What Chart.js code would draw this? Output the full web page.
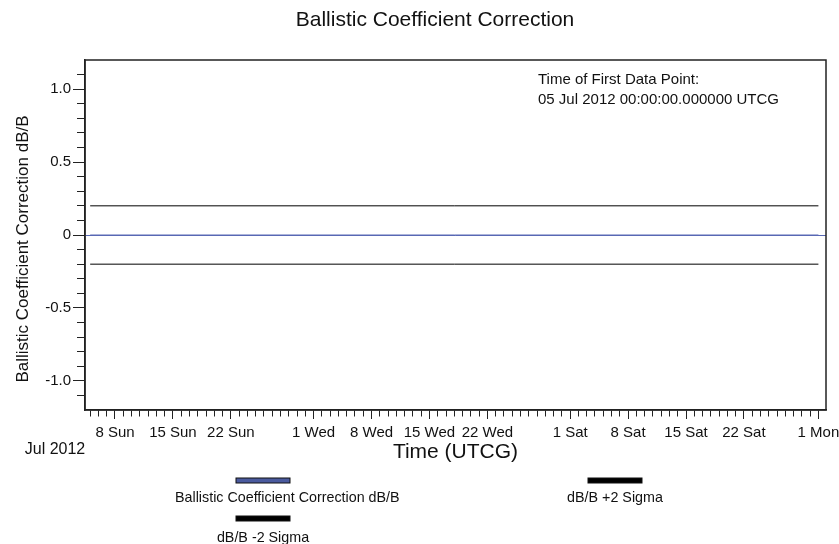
<!DOCTYPE html>
<html>
<head>
<meta charset="utf-8">
<script src="https://cdn.jsdelivr.net/npm/chart.js@4.4.1/dist/chart.umd.min.js"></script>
<style>
  html, body { margin: 0; padding: 0; background: #fff; }
</style>
</head>
<body>
<canvas id="bc-chart" width="839" height="544"></canvas>
<script>
// data: first and last sample time (UTC) of each series
const times = [Date.UTC(2012, 6, 5), Date.UTC(2012, 9, 1)];
const correction = [0, 0];
const plusSigma = [0.2, 0.2];
const minusSigma = [-0.2, -0.2];

// axis ticks
const yTicks = [-1.1, -1.0, -0.9, -0.8, -0.7, -0.6, -0.5, -0.4, -0.3, -0.2, -0.1, 0,
  0.1, 0.2, 0.3, 0.4, 0.5, 0.6, 0.7, 0.8, 0.9, 1.0, 1.1];
const yMajor = [-1.0, -0.5, 0, 0.5, 1.0];
const yLabels = ["-1.0", "-0.5", "0", "0.5", "1.0"];
const majorDays = [1, 8, 15, 22];
const weekdays = ["Sun", "Mon", "Tue", "Wed", "Thu", "Fri", "Sat"];
const xMin = Date.UTC(2012, 6, 4, 9);
const xMax = Date.UTC(2012, 9, 1, 22);

const titleText = "Ballistic Coefficient Correction";
const yTitleText = "Ballistic Coefficient Correction dB/B";
const noteLines = ["Time of First Data Point:", "05 Jul 2012 00:00:00.000000 UTCG"];
const epochLabel = "Jul 2012";

const DAY = 86400000;
const dayTicks = [];
for (let t = times[0]; t <= times[1]; t += DAY) dayTicks.push({ value: t });

const isMajorDay = (v) => majorDays.includes(new Date(v).getUTCDate());
const toPoints = (ys) => times.map((t, i) => ({ x: t, y: ys[i] }));

const FONT = "'Liberation Sans', Arial, sans-serif";
Chart.defaults.font.family = FONT;
Chart.defaults.color = "#111";

// title, y title, note, epoch label, frame and the two-column legend
const decor = {
  id: "decor",
  afterDraw(chart) {
    const { ctx, chartArea } = chart;
    ctx.save();
    ctx.strokeStyle = "#222";
    ctx.lineWidth = 1.5;
    ctx.strokeRect(chartArea.left, chartArea.top, chartArea.right - chartArea.left, chartArea.bottom - chartArea.top);

    ctx.fillStyle = "#111";
    ctx.textBaseline = "middle";
    ctx.textAlign = "center";
    ctx.font = "21px " + FONT;
    ctx.fillText(titleText, 435, 20);

    // y title sits a little below the middle of the axis, as in the source
    ctx.save();
    ctx.translate(23, 249);
    ctx.rotate(-Math.PI / 2);
    ctx.font = "17px " + FONT;
    ctx.fillText(yTitleText, 0, 0);
    ctx.restore();

    ctx.font = "16px " + FONT;
    ctx.fillText(epochLabel, 55, 450);

    ctx.font = "15px " + FONT;
    ctx.textAlign = "left";
    noteLines.forEach((line, i) => ctx.fillText(line, 538, 80 + i * 20));

    // legend
    const colCenter = [263, 615];
    const colLeft = [175, 470];
    const rowSwatch = [478, 516];
    const rowLabel = [498, 538];
    ctx.font = "14.3px " + FONT;
    chart.data.datasets.forEach((ds, i) => {
      const col = i % 2, row = Math.floor(i / 2);
      ctx.fillStyle = ds.backgroundColor;
      ctx.fillRect(colCenter[col] - 27, rowSwatch[row], 54, 5);
      ctx.strokeStyle = "#111";
      ctx.lineWidth = 1;
      ctx.strokeRect(colCenter[col] - 27, rowSwatch[row], 54, 5);
      const w = ctx.measureText(ds.label).width;
      const left = Math.max(colCenter[col] - w / 2, colLeft[col]);
      ctx.fillStyle = "#111";
      ctx.fillText(ds.label, left, rowLabel[row]);
    });
    ctx.restore();
  },
};

const bcChart = new Chart(document.getElementById("bc-chart"), {
  type: "line",
  data: {
    datasets: [
      {
        label: "Ballistic Coefficient Correction dB/B",
        data: toPoints(correction),
        borderColor: "#5868b4",
        backgroundColor: "#4a5a9e",
        borderWidth: 1,
        pointRadius: 0,
      },
      {
        label: "dB/B +2 Sigma",
        data: toPoints(plusSigma),
        borderColor: "#000",
        backgroundColor: "#000",
        borderWidth: 1,
        pointRadius: 0,
      },
      {
        label: "dB/B -2 Sigma",
        data: toPoints(minusSigma),
        borderColor: "#000",
        backgroundColor: "#000",
        borderWidth: 1,
        pointRadius: 0,
      },
    ],
  },
  options: {
    responsive: false,
    animation: false,
    layout: { padding: { top: 60, right: 13, bottom: 74, left: 0 } },
    plugins: {
      legend: { display: false },
      tooltip: { enabled: false },
    },
    scales: {
      x: {
        type: "linear",
        min: xMin,
        max: xMax,
        afterBuildTicks: (axis) => { axis.ticks = dayTicks.slice(); },
        afterFit: (axis) => {
          axis.height = 60;
          axis.paddingLeft = 0;
          axis.paddingRight = 0;
        },
        border: { color: "#222", width: 1.5 },
        grid: {
          drawOnChartArea: false,
          tickLength: 9,
          tickColor: "#222",
          tickBorderDash: (c) => (c.tick && isMajorDay(c.tick.value) ? [] : [6, 20]),
        },
        ticks: {
          autoSkip: false,
          maxRotation: 0,
          minRotation: 0,
          padding: 5,
          font: { size: 15 },
          callback: (v) => {
            const d = new Date(v);
            return isMajorDay(v) ? d.getUTCDate() + " " + weekdays[d.getUTCDay()] : "";
          },
        },
        title: {
          display: true,
          text: "Time (UTCG)",
          font: { size: 21 },
          padding: { top: 0, bottom: 5 },
        },
      },
      y: {
        min: -1.2,
        max: 1.2,
        afterBuildTicks: (axis) => { axis.ticks = yTicks.map((v) => ({ value: v })); },
        afterFit: (axis) => { axis.width = 85; },
        border: { color: "#222", width: 1.5 },
        grid: {
          color: (c) => (c.tick && c.tick.value === 0 ? "#5868b4" : "rgba(0,0,0,0)"),
          tickLength: 12,
          tickColor: "#222",
          tickBorderDash: (c) => (c.tick && yMajor.includes(c.tick.value) ? [] : [0, 4, 8, 20]),
        },
        ticks: {
          autoSkip: false,
          padding: 2,
          font: { size: 15 },
          callback: (v) => {
            const i = yMajor.indexOf(v);
            return i >= 0 ? yLabels[i] : "";
          },
        },
        title: { display: false },
      },
    },
  },
  plugins: [decor],
});
</script>
</body>
</html>
